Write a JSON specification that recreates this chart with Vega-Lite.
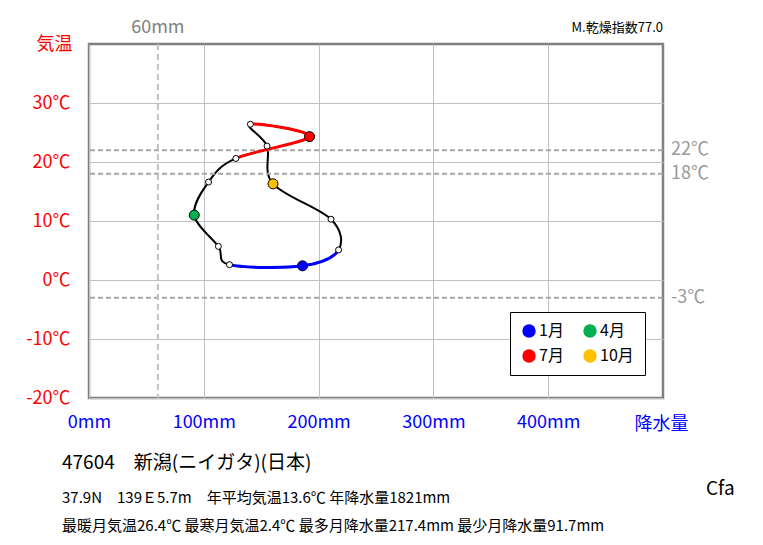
{
  "$schema": "https://vega.github.io/schema/vega-lite/v6.json",
  "width": 574,
  "height": 354,
  "autosize": {"type": "none"},
  "padding": {"left": 89, "top": 44, "right": 100, "bottom": 147},
  "background": "white",
  "config": {
    "font": "Noto Sans CJK JP",
    "view": {"stroke": "#808080", "strokeWidth": 2.5},
    "axis": {"ticks": false, "domain": false, "grid": true, "gridColor": "#c0c0c0", "gridWidth": 1, "labelFont": "Noto Sans CJK JP", "titleFont": "Noto Sans CJK JP", "titleFontWeight": "normal", "labelFontSize": 18, "titleFontSize": 18, "labelFlush": false, "labelOverlap": false},
    "axisX": {"labelColor": "#0000ff", "titleColor": "#0000ff", "labelPadding": 15},
    "axisY": {"labelColor": "#ff0000", "titleColor": "#ff0000", "labelPadding": 19}
  },
  "title": {
    "text": "47604　新潟(ニイガタ)(日本)",
    "subtitle": ["37.9N　139Ｅ5.7m　年平均気温13.6℃ 年降水量1821mm", "最暖月気温26.4℃ 最寒月気温2.4℃ 最多月降水量217.4mm 最少月降水量91.7mm"],
    "orient": "bottom",
    "anchor": "start",
    "frame": "group",
    "dx": -27,
    "offset": -45,
    "fontSize": 19,
    "fontWeight": "normal",
    "color": "#000000",
    "subtitleFontSize": 15,
    "subtitleColor": "#000000",
    "subtitlePadding": 18,
    "subtitleLineHeight": 28
  },
  "datasets": {
    "climate": [
      {"month": 1, "name": "1月", "precip": 186.0, "temp": 2.4, "w": 3},
      {"month": 2, "name": "2月", "precip": 122.4, "temp": 2.6, "w": 4},
      {"month": 3, "name": "3月", "precip": 112.7, "temp": 5.7, "w": 5},
      {"month": 4, "name": "4月", "precip": 91.7, "temp": 11.0},
      {"month": 5, "name": "5月", "precip": 104.1, "temp": 16.6, "s": 1},
      {"month": 6, "name": "6月", "precip": 127.9, "temp": 20.6, "s": 2},
      {"month": 7, "name": "7月", "precip": 192.1, "temp": 24.3, "s": 3},
      {"month": 8, "name": "8月", "precip": 140.6, "temp": 26.4, "s": 4},
      {"month": 9, "name": "9月", "precip": 155.1, "temp": 22.7, "s": 5},
      {"month": 10, "name": "10月", "precip": 160.3, "temp": 16.3},
      {"month": 11, "name": "11月", "precip": 210.8, "temp": 10.3, "w": 1},
      {"month": 12, "name": "12月", "precip": 217.4, "temp": 5.1, "w": 2}
    ],
    "refs": [
      {"t": 22, "label": "22℃"},
      {"t": 18, "label": "18℃"},
      {"t": -3, "label": "-3℃"}
    ],
    "dry": [{"p": 60, "label": "60mm"}]
  },
  "layer": [
    {
      "data": {"name": "climate"},
      "mark": {"type": "line", "interpolate": "cardinal-closed", "tension": 0, "color": "#000000", "strokeWidth": 2},
      "encoding": {
        "x": {"field": "precip", "type": "quantitative", "scale": {"domain": [0, 500], "nice": false, "zero": false},
          "axis": {"values": [0, 100, 200, 300, 400], "labelExpr": "datum.value + 'mm'",
            "title": "降水量", "titleX": 572, "titleY": 26, "titleAlign": "center", "titleBaseline": "middle"}},
        "y": {"field": "temp", "type": "quantitative", "scale": {"domain": [-20, 40], "nice": false, "zero": false},
          "axis": {"values": [-20, -10, 0, 10, 20, 30], "labelExpr": "datum.value + '℃'",
            "title": "気温", "titleAngle": 0, "titleX": -17, "titleY": 0, "titleAlign": "right", "titleBaseline": "middle"}},
        "order": {"field": "month", "type": "quantitative"}
      }
    },
    {
      "data": {"name": "refs"},
      "mark": {"type": "rule", "color": "#a6a6a6", "strokeWidth": 2, "strokeDash": [5, 3]},
      "encoding": {
        "y": {"field": "t", "type": "quantitative"}
      }
    },
    {
      "data": {"name": "refs"},
      "mark": {"type": "text", "align": "left", "baseline": "middle", "dx": 8, "fontSize": 18, "color": "#999999"},
      "encoding": {
        "x": {"value": "width"},
        "y": {"field": "t", "type": "quantitative"},
        "text": {"field": "label"}
      }
    },
    {
      "data": {"name": "dry"},
      "mark": {"type": "rule", "color": "#c0c0c0", "strokeWidth": 2, "strokeDash": [6, 4]},
      "encoding": {
        "x": {"field": "p", "type": "quantitative"}
      }
    },
    {
      "data": {"name": "dry"},
      "mark": {"type": "text", "align": "center", "baseline": "middle", "dy": -16, "fontSize": 18, "color": "#808080"},
      "encoding": {
        "x": {"field": "p", "type": "quantitative"},
        "y": {"datum": 40, "type": "quantitative"},
        "text": {"field": "label"}
      }
    },
    {
      "data": {"values": [{"label": "M.乾燥指数77.0"}]},
      "mark": {"type": "text", "align": "right", "baseline": "middle", "dy": -16, "fontSize": 13, "color": "#000000"},
      "encoding": {
        "x": {"datum": 500, "type": "quantitative"},
        "y": {"datum": 40, "type": "quantitative"},
        "text": {"field": "label"}
      }
    },
    {
      "data": {"values": [{"label": "Cfa"}]},
      "mark": {"type": "text", "align": "left", "baseline": "middle", "dx": 43, "dy": 91, "fontSize": 19, "color": "#000000"},
      "encoding": {
        "x": {"datum": 500, "type": "quantitative"},
        "y": {"datum": -20, "type": "quantitative"},
        "text": {"field": "label"}
      }
    },
    {
      "data": {"name": "climate"},
      "transform": [{"filter": "isValid(datum.w)"}],
      "mark": {"type": "line", "interpolate": "cardinal-open", "tension": 0, "color": "#0000ff", "strokeWidth": 3},
      "encoding": {
        "x": {"field": "precip", "type": "quantitative"},
        "y": {"field": "temp", "type": "quantitative"},
        "order": {"field": "w", "type": "quantitative"}
      }
    },
    {
      "data": {"name": "climate"},
      "transform": [{"filter": "isValid(datum.s)"}],
      "mark": {"type": "line", "interpolate": "cardinal-open", "tension": 0, "color": "#ff0000", "strokeWidth": 3},
      "encoding": {
        "x": {"field": "precip", "type": "quantitative"},
        "y": {"field": "temp", "type": "quantitative"},
        "order": {"field": "s", "type": "quantitative"}
      }
    },
    {
      "data": {"name": "climate"},
      "transform": [{"filter": "indexof([1, 4, 7, 10], datum.month) < 0"}],
      "mark": {"type": "point", "shape": "circle", "filled": true, "fill": "#ffffff", "stroke": "#000000", "strokeWidth": 1, "size": 36, "opacity": 1},
      "encoding": {
        "x": {"field": "precip", "type": "quantitative"},
        "y": {"field": "temp", "type": "quantitative"}
      }
    },
    {
      "data": {"name": "climate"},
      "transform": [{"filter": "indexof([1, 4, 7, 10], datum.month) >= 0"}],
      "mark": {"type": "point", "shape": "circle", "filled": true, "stroke": "#000000", "strokeWidth": 1, "size": 100, "opacity": 1},
      "encoding": {
        "x": {"field": "precip", "type": "quantitative"},
        "y": {"field": "temp", "type": "quantitative"},
        "color": {
          "field": "name", "type": "nominal",
          "scale": {"domain": ["1月", "4月", "7月", "10月"], "range": ["#0000ff", "#00b050", "#ff0000", "#ffc000"]},
          "legend": {
            "title": null, "orient": "none", "legendX": 421, "legendY": 268, "columns": 2, "direction": "horizontal",
            "columnPadding": 18, "rowPadding": 9, "padding": 11,
            "strokeColor": "#000000", "fillColor": "#ffffff",
            "symbolType": "circle", "symbolSize": 180, "symbolStrokeWidth": 0, "symbolOpacity": 1,
            "labelFontSize": 16, "labelOffset": 2, "labelFont": "Noto Sans CJK JP",
            "encode": {"labels": {"update": {"fill": {"signal": "datum.value == '1月' ? '#0000ff' : datum.value == '4月' ? '#00b050' : datum.value == '7月' ? '#ff0000' : '#ffc000'"}}}}
          }
        }
      }
    }
  ]
}
